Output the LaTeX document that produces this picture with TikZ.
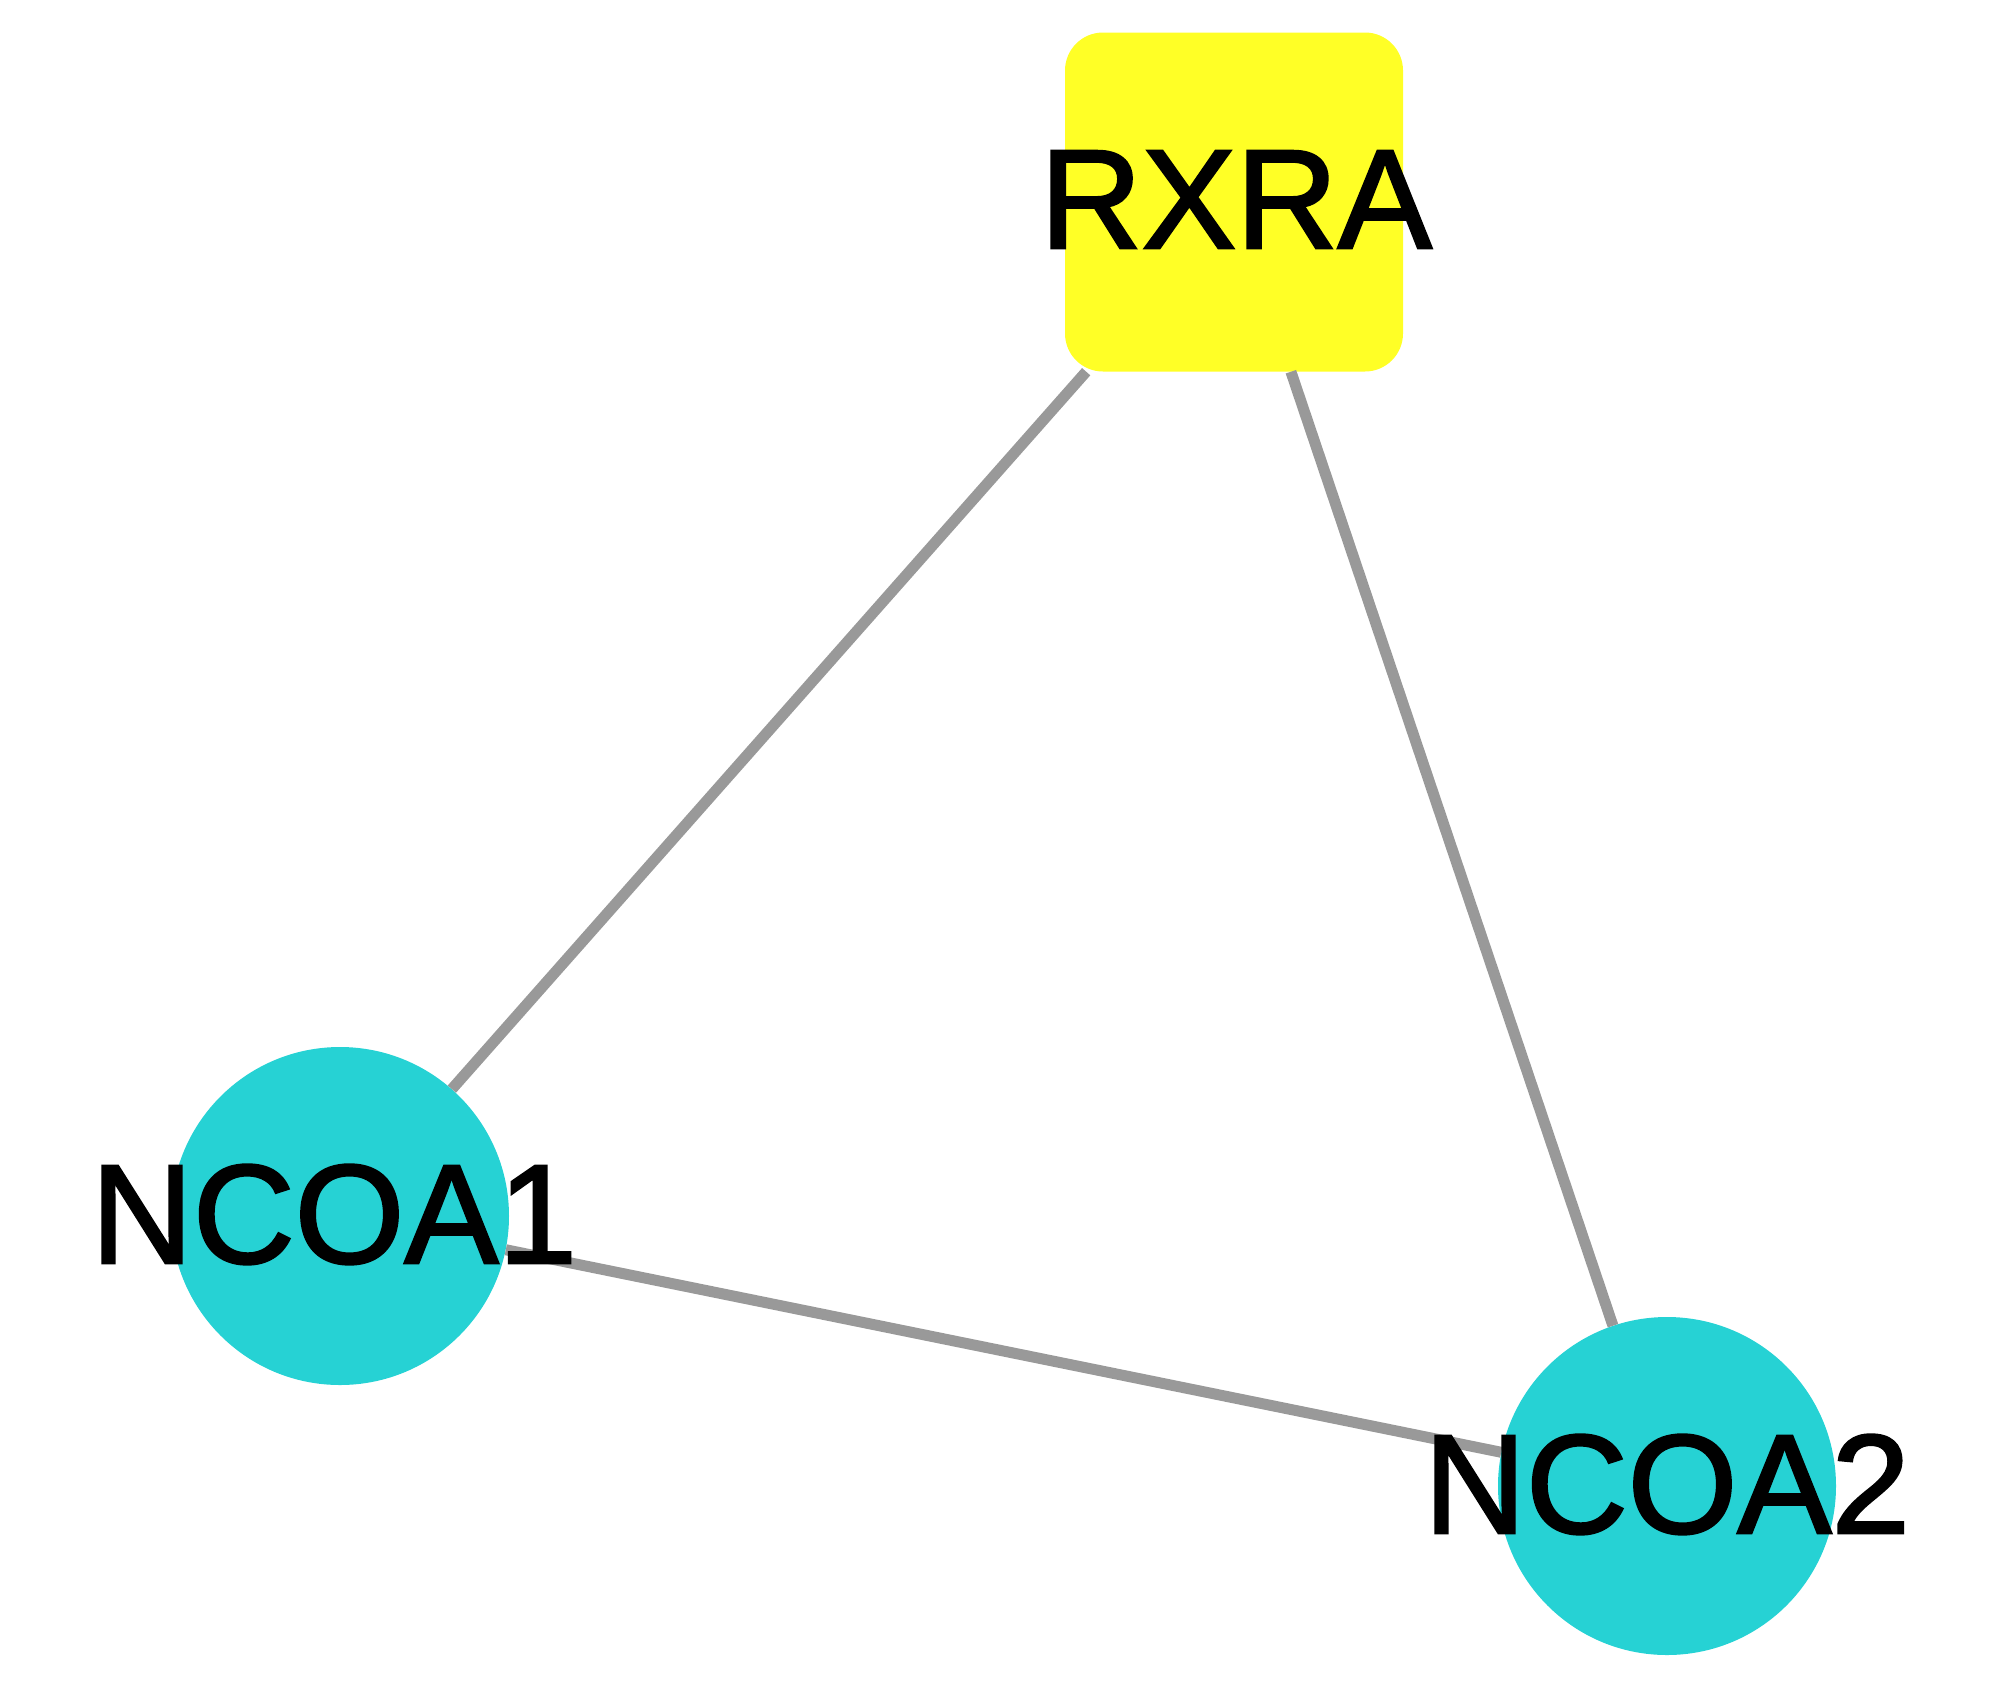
\documentclass[tikz,border=0pt]{standalone}
\usepackage{fontspec}
\setmainfont{Liberation Sans}
\newfontfamily\genefont[BoldFont=Liberation Sans, BoldFeatures={FakeBold=1.8}]{Liberation Sans}
\definecolor{nodeyellow}{RGB}{255,255,38}
\definecolor{nodecyan}{RGB}{38,210,212}
\definecolor{edgegray}{RGB}{153,153,153}
\tikzset{
  genebox/.style={rectangle, rounded corners=38pt, fill=nodeyellow, draw=none,
    minimum width=338pt, minimum height=339pt, inner sep=0pt},
  genecirc/.style={circle, fill=nodecyan, draw=none, minimum size=338pt, inner sep=0pt},
  genelabel/.style={anchor=base, inner sep=0pt, text=black,
    font=\genefont\bfseries\fontsize{141}{141}\selectfont},
  interaction/.style={draw=edgegray, line width=11pt}
}
\begin{document}
\begin{tikzpicture}[x=1pt,y=-1pt]
\useasboundingbox (0,0) rectangle (2000,1690);
\node[genebox] (rxra) at (1234,202) {};
\node[genecirc] (ncoa1) at (340,1216) {};
\node[genecirc] (ncoa2) at (1667,1486) {};
\draw[interaction] (rxra) -- (ncoa1);
\draw[interaction] (rxra) -- (ncoa2);
\draw[interaction] (ncoa1) -- (ncoa2);
\node[genelabel] (rxralabel) at (1236,248) {RXRA};
\node[genelabel] (ncoa1label) at (334,1263) {NCOA1};
\node[genelabel] (ncoa2label) at (1667,1533) {NCOA2};
\end{tikzpicture}
\end{document}
